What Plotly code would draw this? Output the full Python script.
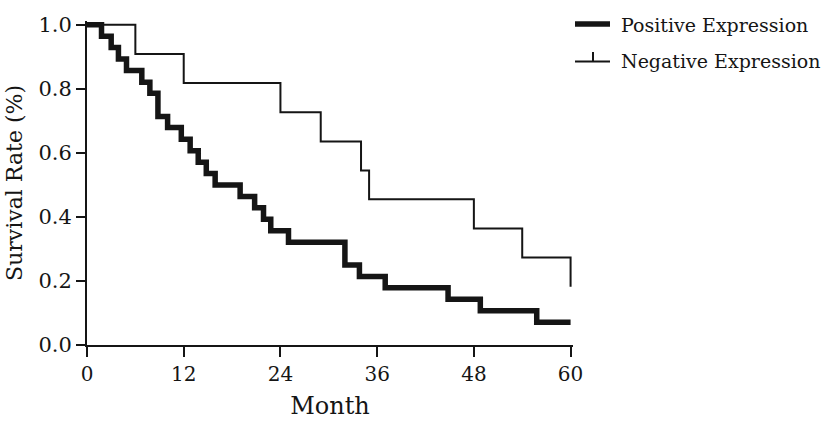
import plotly.graph_objects as go

# Kaplan-Meier step data
pos_month = [0, 1.8, 3.0, 3.9, 4.9, 6.8, 7.8, 8.8, 10.0, 11.7, 12.8, 13.8, 14.8,
             15.9, 19.0, 20.8, 21.9, 22.8, 25.0, 32.0, 33.8, 37.0, 44.8, 48.8,
             55.8, 60.0]
pos_surv = [1.000, 0.964, 0.929, 0.893, 0.857, 0.821, 0.786, 0.714, 0.679,
            0.643, 0.607, 0.571, 0.536, 0.500, 0.464, 0.429, 0.393, 0.357,
            0.321, 0.250, 0.214, 0.179, 0.143, 0.107, 0.071, 0.071]

neg_month = [0, 6, 12, 24, 29, 34, 35, 48, 54, 60]
neg_surv = [1.000, 0.909, 0.818, 0.727, 0.636, 0.545, 0.455, 0.364, 0.273, 0.182]

x_ticks = [0, 12, 24, 36, 48, 60]
y_ticks = [0.0, 0.2, 0.4, 0.6, 0.8, 1.0]
y_tick_text = ["0.0", "0.2", "0.4", "0.6", "0.8", "1.0"]

series_names = ["Positive Expression", "Negative Expression"]

INK = "#151515"
FONT = "DejaVu Serif"

W, H = 822, 435
ML, MR, MT, MB = 87, 249, 21, 90
PW, PH = W - ML - MR, H - MT - MB


def px_x(px):
    return (px - ML) / PW


def px_y(py):
    return (H - MB - py) / PH


fig = go.Figure()
fig.add_trace(go.Scatter(
    x=pos_month, y=pos_surv, mode="lines", line_shape="hv",
    line=dict(color=INK, width=5.5), name=series_names[0],
))
fig.add_trace(go.Scatter(
    x=neg_month, y=neg_surv, mode="lines", line_shape="hv",
    line=dict(color=INK, width=2), name=series_names[1],
))

# legend drawn in the right margin
shapes = [
    dict(type="line", xref="paper", yref="paper",
         x0=px_x(575), x1=px_x(610), y0=px_y(24), y1=px_y(24),
         line=dict(color=INK, width=5.5)),
    dict(type="line", xref="paper", yref="paper",
         x0=px_x(575), x1=px_x(610), y0=px_y(61.5), y1=px_y(61.5),
         line=dict(color=INK, width=2)),
    dict(type="line", xref="paper", yref="paper",
         x0=px_x(593), x1=px_x(593), y0=px_y(61.5), y1=px_y(52),
         line=dict(color=INK, width=2)),
]
annotations = [
    dict(text=series_names[0], xref="paper", yref="paper",
         x=px_x(619), y=px_y(25), xanchor="left", yanchor="middle",
         showarrow=False, font=dict(family=FONT, size=19, color=INK)),
    dict(text=series_names[1], xref="paper", yref="paper",
         x=px_x(619), y=px_y(61), xanchor="left", yanchor="middle",
         showarrow=False, font=dict(family=FONT, size=19, color=INK)),
]

fig.update_layout(
    width=W, height=H,
    margin=dict(l=ML, r=MR, t=MT, b=MB, autoexpand=False),
    paper_bgcolor="white", plot_bgcolor="white",
    font=dict(family=FONT, size=20, color=INK),
    showlegend=False,
    shapes=shapes,
    annotations=annotations,
    xaxis=dict(
        range=[0, 60.3], tickmode="array", tickvals=x_ticks,
        ticktext=[str(t) for t in x_ticks], automargin=False,
        showgrid=False, zeroline=False, showline=True,
        linecolor=INK, linewidth=2, ticks="outside", ticklen=10,
        tickwidth=2, tickcolor=INK,
        tickfont=dict(family=FONT, size=20, color=INK),
        title=dict(text="Month", font=dict(family=FONT, size=24, color=INK),
                   standoff=12),
    ),
    yaxis=dict(
        range=[0, 1.012], tickmode="array", tickvals=y_ticks,
        ticktext=y_tick_text, automargin=False,
        showgrid=False, zeroline=False, showline=True,
        linecolor=INK, linewidth=2, ticks="outside", ticklen=9,
        tickwidth=2, tickcolor=INK,
        tickfont=dict(family=FONT, size=21, color=INK),
        title=dict(text="Survival Rate (%)",
                   font=dict(family=FONT, size=22, color=INK), standoff=10),
    ),
)

fig.write_html(
    "out.html",
    config={"displayModeBar": False},
    post_script="document.body.style.margin='0';document.body.style.padding='0';",
)
